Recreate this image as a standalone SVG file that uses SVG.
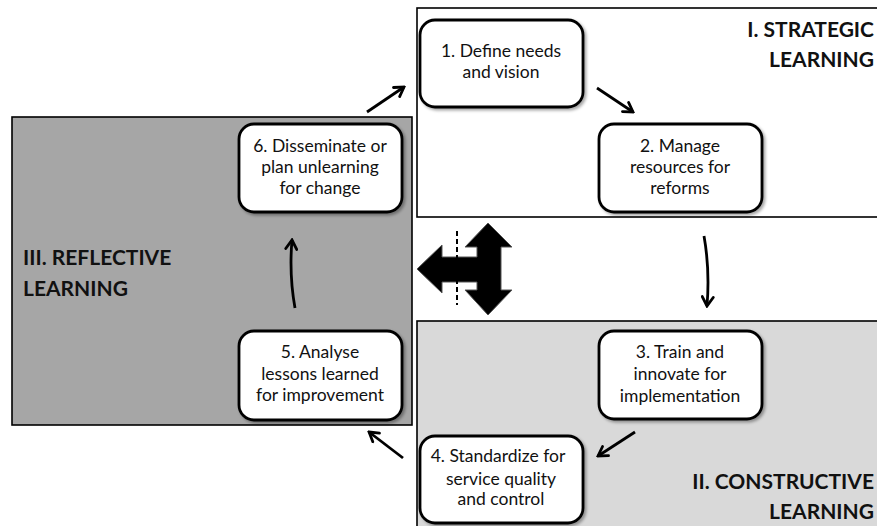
<svg xmlns="http://www.w3.org/2000/svg" width="877" height="526" viewBox="0 0 877 526">
<defs>
<marker id="ah" viewBox="0 0 14 14" refX="12" refY="7" markerWidth="14" markerHeight="14" markerUnits="userSpaceOnUse" orient="auto">
<path d="M3,1.5 L12,7 L3,12.5" fill="none" stroke="#000" stroke-width="2.8" stroke-linecap="round" stroke-linejoin="miter"/>
</marker>
<filter id="sh" x="-10%" y="-10%" width="130%" height="130%">
<feDropShadow dx="2" dy="2" stdDeviation="1.5" flood-color="#000" flood-opacity="0.35"/>
</filter>
</defs>
<style>
.sec{stroke:#000;stroke-width:1.6}
.node rect{fill:#fff;stroke:#000;stroke-width:2.8}
.nt{font-family:Lato,"Open Sans",sans-serif;font-size:17.5px;fill:#111;text-anchor:middle}
.tt{font-family:Lato,"Open Sans",sans-serif;font-size:21px;font-weight:bold;fill:#111}
.c{fill:none;stroke:#000;stroke-width:2.8;marker-end:url(#ah)}
</style>
<rect width="877" height="526" fill="#fff"/>
<g id="sec-strategic">
<rect class="sec" x="417" y="8" width="470" height="209" fill="#fff"/>
<text class="tt" text-anchor="end" x="874" y="37">I. STRATEGIC</text>
<text class="tt" text-anchor="end" x="874" y="67">LEARNING</text>
</g>
<g id="sec-reflective">
<rect class="sec" x="12" y="117" width="400" height="308" fill="#a6a6a6"/>
<text class="tt" x="23" y="265">III. REFLECTIVE</text>
<text class="tt" x="23" y="296">LEARNING</text>
</g>
<g id="sec-constructive">
<rect class="sec" x="417" y="321" width="470" height="215" fill="#d9d9d9"/>
<text class="tt" text-anchor="end" x="874" y="489">II. CONSTRUCTIVE</text>
<text class="tt" text-anchor="end" x="874" y="519">LEARNING</text>
</g>
<g id="n1" class="node">
<rect x="420" y="20" width="163" height="87" rx="15" filter="url(#sh)"/>
<text class="nt" x="501" y="57">1. Define needs</text>
<text class="nt" x="501" y="78">and vision</text>
</g>
<g id="n2" class="node">
<rect x="599" y="124" width="163" height="88" rx="15" filter="url(#sh)"/>
<text class="nt" x="680" y="152">2. Manage</text>
<text class="nt" x="680" y="173">resources for</text>
<text class="nt" x="680" y="194">reforms</text>
</g>
<g id="n3" class="node">
<rect x="599" y="331" width="163" height="88" rx="15" filter="url(#sh)"/>
<text class="nt" x="680" y="358">3. Train and</text>
<text class="nt" x="680" y="380">innovate for</text>
<text class="nt" x="680" y="402">implementation</text>
</g>
<g id="n4" class="node">
<rect x="420" y="436" width="163" height="87" rx="15" filter="url(#sh)"/>
<text class="nt" x="498" y="462">4. Standardize for</text>
<text class="nt" x="501" y="485">service quality</text>
<text class="nt" x="501" y="505">and control</text>
</g>
<g id="n5" class="node">
<rect x="239" y="331" width="163" height="89" rx="15" filter="url(#sh)"/>
<text class="nt" x="320" y="358">5. Analyse</text>
<text class="nt" x="320" y="380">lessons learned</text>
<text class="nt" x="320" y="401">for improvement</text>
</g>
<g id="n6" class="node">
<rect x="239" y="124" width="163" height="88" rx="15" filter="url(#sh)"/>
<text class="nt" x="320" y="152">6. Disseminate or</text>
<text class="nt" x="320" y="173">plan unlearning</text>
<text class="nt" x="320" y="194">for change</text>
</g>
<g id="connectors">
<path class="c" d="M367,112 L404,87"/>
<path class="c" d="M597,88 L633,112"/>
<path class="c" d="M704,236 Q710,270 707,306"/>
<path class="c" d="M635,432 L598,456"/>
<path class="c" d="M403,458 L369,432"/>
<path class="c" d="M295,308 Q289,275 292,240"/>
</g>
<g id="center-arrow">
<path d="M488,223 L512,247 L501,247 L501,290 L512,290 L488,315 L465,290 L477,290 L477,282 L442,282 L442,293 L417,269 L442,245 L442,257 L477,257 L477,247 L465,247 Z" fill="#000" stroke="#555" stroke-width="1"/>
<line x1="457" y1="231" x2="457" y2="305" stroke="#000" stroke-width="2" stroke-dasharray="5,3"/>
</g>
</svg>
